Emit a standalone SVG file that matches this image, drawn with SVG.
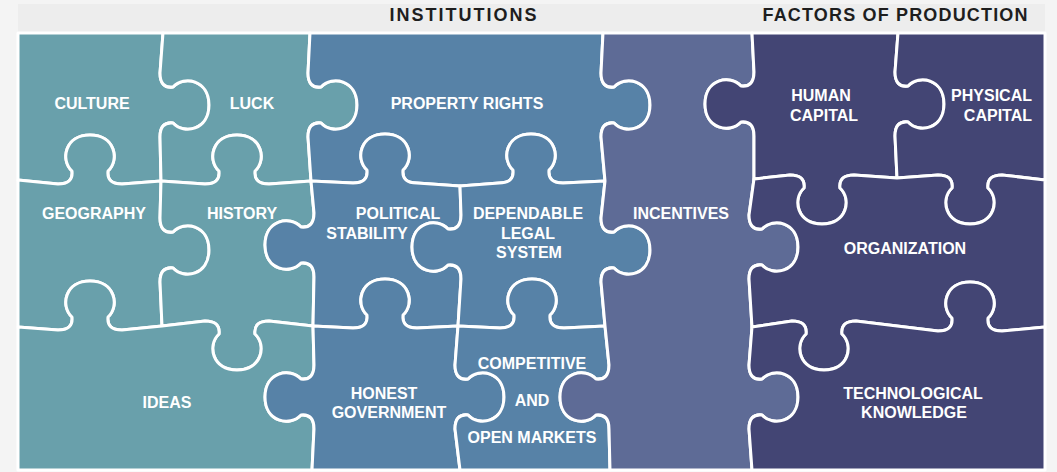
<svg xmlns="http://www.w3.org/2000/svg" width="1057" height="472" viewBox="0 0 1057 472">
<style>
.pc{stroke:#ffffff;stroke-width:3;stroke-linejoin:round}
.teal{fill:#69a0ab}
.blue{fill:#5782a7}
.inc{fill:#5e6b96}
.navy{fill:#434574}
.lbl{font-family:"Liberation Sans",Arial,sans-serif;font-size:16px;font-weight:bold;fill:#ffffff;text-anchor:middle}
.hdr{font-family:"Liberation Sans",Arial,sans-serif;font-size:18px;font-weight:bold;fill:#1e1e1e;text-anchor:middle}
</style>
<rect x="0" y="0" width="1057" height="472" fill="#f4f4f4"/>
<rect x="18" y="4" width="1027" height="29" fill="#ededed"/>
<text class="hdr" x="463" y="21" textLength="147" lengthAdjust="spacing">INSTITUTIONS</text>
<text class="hdr" x="895" y="21" textLength="265" lengthAdjust="spacing">FACTORS OF PRODUCTION</text>

<g id="culture">
<path class="pc teal" d="M 18,33 L 163,33 L 160,73 C 160,83 164,88 173,87 C 184,75 209,80 209,105 C 209,130 184,135 173,123 C 164,122 160,127 160,137 L 161,181 L 122,184 C 112,184 107,180 108,171 C 120,160 115,135 90,135 C 65,135 60,160 72,171 C 73,180 68,184 58,184 L 18,180 Z"/>
<text class="lbl" x="92" y="109">CULTURE</text>
</g>
<g id="luck">
<path class="pc teal" d="M 163,33 L 310,33 L 308,73 C 308,83 312,88 321,87 C 332,75 357,80 357,105 C 357,130 332,135 321,123 C 312,122 308,127 308,137 L 311,181 L 269,184 C 259,184 254,180 255,171 C 267,160 262,135 237,135 C 212,135 207,160 219,171 C 220,180 215,184 205,184 L 161,181 L 160,137 C 160,127 164,122 173,123 C 184,135 209,130 209,105 C 209,80 184,75 173,87 C 164,88 160,83 160,73 Z"/>
<text class="lbl" x="252" y="109">LUCK</text>
</g>
<g id="geography">
<path class="pc teal" d="M 18,180 L 58,184 C 68,184 73,180 72,171 C 60,160 65,135 90,135 C 115,135 120,160 108,171 C 107,180 112,184 122,184 L 161,181 L 160,218 C 160,228 164,233 173,232 C 184,220 209,225 209,250 C 209,275 184,280 173,268 C 164,267 160,272 160,282 L 162,326 L 122,330 C 112,330 107,326 108,317 C 120,306 115,281 90,281 C 65,281 60,306 72,317 C 73,326 68,330 58,330 L 18,327 Z"/>
<text class="lbl" x="94" y="219">GEOGRAPHY</text>
</g>
<g id="history">
<path class="pc teal" d="M 161,181 L 205,184 C 215,184 220,180 219,171 C 207,160 212,135 237,135 C 262,135 267,160 255,171 C 254,180 259,184 269,184 L 311,181 L 314,213 C 314,223 310,228 301,227 C 290,215 265,220 265,245 C 265,270 290,275 301,263 C 310,262 314,267 314,277 L 313,326 L 269,321 C 259,321 254,325 255,334 C 267,345 262,370 237,370 C 212,370 207,345 219,334 C 220,325 215,321 205,321 L 162,326 L 160,282 C 160,272 164,267 173,268 C 184,280 209,275 209,250 C 209,225 184,220 173,232 C 164,233 160,228 160,218 Z"/>
<text class="lbl" x="242" y="219">HISTORY</text>
</g>
<g id="ideas">
<path class="pc teal" d="M 18,327 L 58,330 C 68,330 73,326 72,317 C 60,306 65,281 90,281 C 115,281 120,306 108,317 C 107,326 112,330 122,330 L 162,326 L 205,321 C 215,321 220,325 219,334 C 207,345 212,370 237,370 C 262,370 267,345 255,334 C 254,325 259,321 269,321 L 313,326 L 314,365 C 314,375 310,380 301,379 C 290,367 265,372 265,397 C 265,422 290,427 301,415 C 310,414 314,419 314,429 L 312,470 L 18,470 Z"/>
<text class="lbl" x="167" y="408">IDEAS</text>
</g>
<g id="property-rights">
<path class="pc blue" d="M 310,33 L 603,33 L 601,73 C 601,83 605,88 614,87 C 625,75 650,80 650,105 C 650,130 625,135 614,123 C 605,122 601,127 601,137 L 605,181 L 563,183 C 553,183 548,179 549,170 C 561,159 556,134 531,134 C 506,134 501,159 513,170 C 514,179 509,183 499,183 L 460,186 L 417,183 C 407,183 402,179 403,170 C 415,159 410,134 385,134 C 360,134 355,159 367,170 C 368,179 363,183 353,183 L 311,181 L 308,137 C 308,127 312,122 321,123 C 332,135 357,130 357,105 C 357,80 332,75 321,87 C 312,88 308,83 308,73 Z"/>
<text class="lbl" x="467" y="109">PROPERTY RIGHTS</text>
</g>
<g id="political-stability">
<path class="pc blue" d="M 311,181 L 353,183 C 363,183 368,179 367,170 C 355,159 360,134 385,134 C 410,134 415,159 403,170 C 402,179 407,183 417,183 L 460,186 L 461,215 C 461,225 457,230 448,229 C 437,217 412,222 412,247 C 412,272 437,277 448,265 C 457,264 461,269 461,279 L 458,326 L 417,328 C 407,328 402,324 403,315 C 415,304 410,279 385,279 C 360,279 355,304 367,315 C 368,324 363,328 353,328 L 313,326 L 314,277 C 314,267 310,262 301,263 C 290,275 265,270 265,245 C 265,220 290,215 301,227 C 310,228 314,223 314,213 Z"/>
<text class="lbl" x="398" y="219">POLITICAL</text>
<text class="lbl" x="367" y="239">STABILITY</text>
</g>
<g id="dependable-legal-system">
<path class="pc blue" d="M 460,186 L 499,183 C 509,183 514,179 513,170 C 501,159 506,134 531,134 C 556,134 561,159 549,170 C 548,179 553,183 563,183 L 605,181 L 601,218 C 601,228 605,233 614,232 C 625,220 650,225 650,250 C 650,275 625,280 614,268 C 605,267 601,272 601,282 L 605,326 L 564,328 C 554,328 549,324 550,315 C 562,304 557,279 532,279 C 507,279 502,304 514,315 C 515,324 510,328 500,328 L 458,326 L 461,279 C 461,269 457,264 448,265 C 437,277 412,272 412,247 C 412,222 437,217 448,229 C 457,230 461,225 461,215 Z"/>
<text class="lbl" x="528" y="219">DEPENDABLE</text>
<text class="lbl" x="528" y="239">LEGAL</text>
<text class="lbl" x="529" y="258">SYSTEM</text>
</g>
<g id="honest-government">
<path class="pc blue" d="M 313,326 L 353,328 C 363,328 368,324 367,315 C 355,304 360,279 385,279 C 410,279 415,304 403,315 C 402,324 407,328 417,328 L 458,326 L 455,365 C 455,375 459,380 468,379 C 479,367 504,372 504,397 C 504,422 479,427 468,415 C 459,414 455,419 455,429 L 460,470 L 312,470 L 314,429 C 314,419 310,414 301,415 C 290,427 265,422 265,397 C 265,372 290,367 301,379 C 310,380 314,375 314,365 Z"/>
<text class="lbl" x="384" y="399">HONEST</text>
<text class="lbl" x="389" y="418">GOVERNMENT</text>
</g>
<g id="competitive-open-markets">
<path class="pc blue" d="M 458,326 L 500,328 C 510,328 515,324 514,315 C 502,304 507,279 532,279 C 557,279 562,304 550,315 C 549,324 554,328 564,328 L 605,326 L 609,365 C 609,375 605,380 596,379 C 585,367 560,372 560,397 C 560,422 585,427 596,415 C 605,414 609,419 609,429 L 610,470 L 460,470 L 455,429 C 455,419 459,414 468,415 C 479,427 504,422 504,397 C 504,372 479,367 468,379 C 459,380 455,375 455,365 Z"/>
<text class="lbl" x="532" y="369">COMPETITIVE</text>
<text class="lbl" x="532" y="406">AND</text>
<text class="lbl" x="532" y="443">OPEN MARKETS</text>
</g>
<g id="incentives">
<path class="pc inc" d="M 603,33 L 752,33 L 754,72 C 754,82 750,87 741,86 C 730,74 705,79 705,104 C 705,129 730,134 741,122 C 750,121 754,126 754,136 L 754,179 L 749,215 C 749,225 753,230 762,229 C 773,217 798,222 798,247 C 798,272 773,277 762,265 C 753,264 749,269 749,279 L 752,327 L 749,365 C 749,375 753,380 762,379 C 773,367 798,372 798,397 C 798,422 773,427 762,415 C 753,414 749,419 749,429 L 752,470 L 610,470 L 609,429 C 609,419 605,414 596,415 C 585,427 560,422 560,397 C 560,372 585,367 596,379 C 605,380 609,375 609,365 L 605,326 L 601,282 C 601,272 605,267 614,268 C 625,280 650,275 650,250 C 650,225 625,220 614,232 C 605,233 601,228 601,218 L 605,181 L 601,137 C 601,127 605,122 614,123 C 625,135 650,130 650,105 C 650,80 625,75 614,87 C 605,88 601,83 601,73 Z"/>
<text class="lbl" x="681" y="219">INCENTIVES</text>
</g>
<g id="human-capital">
<path class="pc navy" d="M 752,33 L 898,33 L 895,72 C 895,82 899,87 908,86 C 919,74 944,79 944,104 C 944,129 919,134 908,122 C 899,121 895,126 895,136 L 897,178 L 854,175 C 844,175 839,179 840,188 C 852,199 847,224 822,224 C 797,224 792,199 804,188 C 805,179 800,175 790,175 L 754,179 L 754,136 C 754,126 750,121 741,122 C 730,134 705,129 705,104 C 705,79 730,74 741,86 C 750,87 754,82 754,72 Z"/>
<text class="lbl" x="821" y="101">HUMAN</text>
<text class="lbl" x="824" y="121">CAPITAL</text>
</g>
<g id="physical-capital">
<path class="pc navy" d="M 898,33 L 1045,33 L 1045,180 L 1002,175 C 992,175 987,179 988,188 C 1000,199 995,224 970,224 C 945,224 940,199 952,188 C 953,179 948,175 938,175 L 897,178 L 895,136 C 895,126 899,121 908,122 C 919,134 944,129 944,104 C 944,79 919,74 908,86 C 899,87 895,82 895,72 Z"/>
<text class="lbl" x="1032" y="101" style="text-anchor:end">PHYSICAL</text>
<text class="lbl" x="1032" y="121" style="text-anchor:end">CAPITAL</text>
</g>
<g id="organization">
<path class="pc navy" d="M 754,179 L 790,175 C 800,175 805,179 804,188 C 792,199 797,224 822,224 C 847,224 852,199 840,188 C 839,179 844,175 854,175 L 897,178 L 938,175 C 948,175 953,179 952,188 C 940,199 945,224 970,224 C 995,224 1000,199 988,188 C 987,179 992,175 1002,175 L 1045,180 L 1045,327 L 1002,331 C 992,331 987,327 988,318 C 1000,307 995,282 970,282 C 945,282 940,307 952,318 C 953,327 948,331 938,331 L 856,321 C 846,321 841,325 842,334 C 854,345 849,370 824,370 C 799,370 794,345 806,334 C 807,325 802,321 792,321 L 752,327 L 749,279 C 749,269 753,264 762,265 C 773,277 798,272 798,247 C 798,222 773,217 762,229 C 753,230 749,225 749,215 Z"/>
<text class="lbl" x="905" y="254">ORGANIZATION</text>
</g>
<g id="technological-knowledge">
<path class="pc navy" d="M 752,327 L 792,321 C 802,321 807,325 806,334 C 794,345 799,370 824,370 C 849,370 854,345 842,334 C 841,325 846,321 856,321 L 938,331 C 948,331 953,327 952,318 C 940,307 945,282 970,282 C 995,282 1000,307 988,318 C 987,327 992,331 1002,331 L 1045,327 L 1045,470 L 752,470 L 749,429 C 749,419 753,414 762,415 C 773,427 798,422 798,397 C 798,372 773,367 762,379 C 753,380 749,375 749,365 Z"/>
<text class="lbl" x="913" y="399">TECHNOLOGICAL</text>
<text class="lbl" x="914" y="418">KNOWLEDGE</text>
</g>
<g id="connectors"></g>
</svg>
